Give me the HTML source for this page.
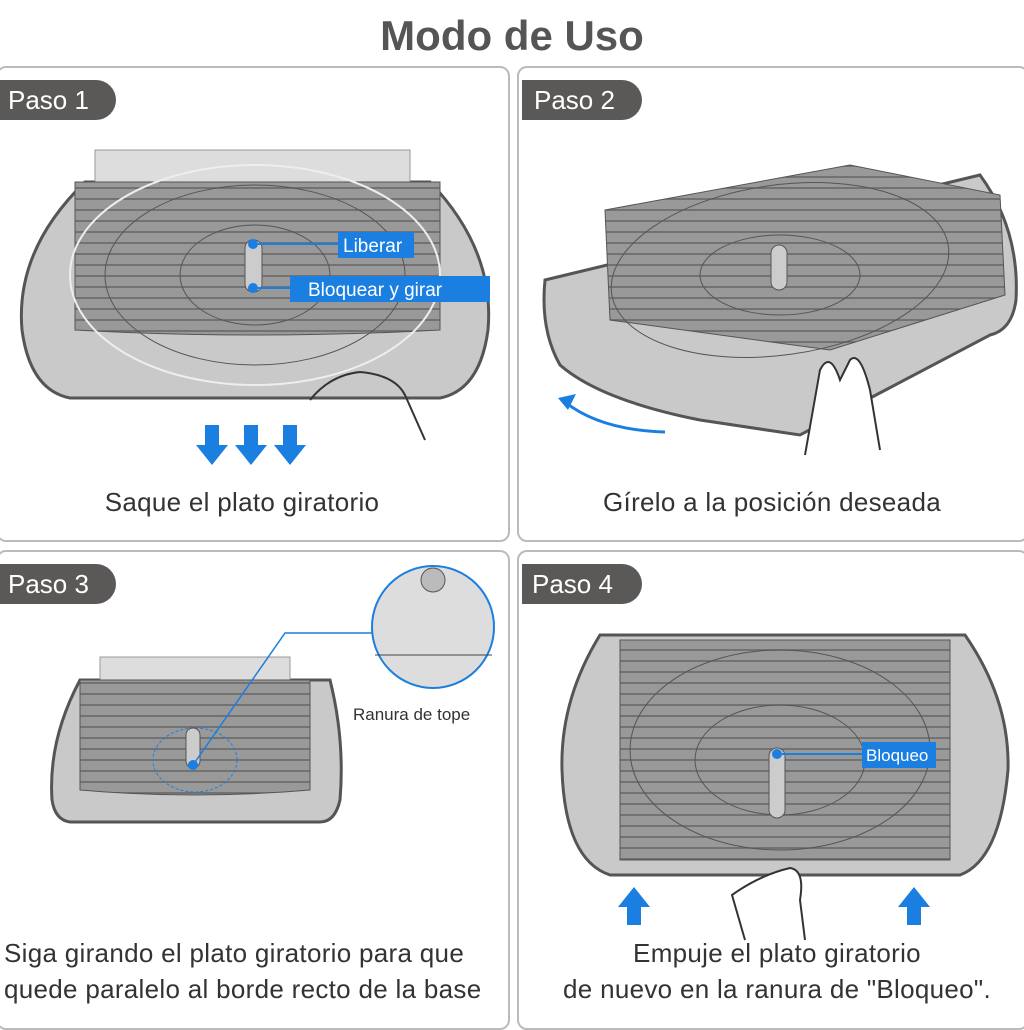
<!DOCTYPE html>
<html><head><meta charset="utf-8"><style>
body{margin:0;background:#fff;width:1024px;height:1024px;overflow:hidden;font-family:"Liberation Sans",sans-serif;position:relative}
.t{position:absolute;left:0;width:1024px;top:12px;text-align:center;font-size:42px;font-weight:bold;color:#555}
.p{position:absolute;border:2px solid #bbb;border-radius:10px;box-sizing:border-box}
.pill{position:absolute;background:#5b5957;color:#fff;font-size:26px;height:40px;line-height:40px;padding-left:8px;border-radius:0 20px 20px 0;width:116px;box-sizing:border-box}
.c{position:absolute;font-size:26px;color:#333;white-space:nowrap;letter-spacing:0.3px}
svg{position:absolute;left:0;top:0}
</style></head><body>
<div class="t">Modo de Uso</div>
<div class="p" style="left:-4px;top:66px;width:514px;height:476px"></div>
<div class="p" style="left:517px;top:66px;width:512px;height:476px"></div>
<div class="p" style="left:-4px;top:550px;width:514px;height:480px"></div>
<div class="p" style="left:517px;top:550px;width:512px;height:480px"></div>
<div class="pill" style="left:0;top:80px">Paso 1</div>
<div class="pill" style="left:522px;top:80px;width:120px;padding-left:12px">Paso 2</div>
<div class="pill" style="left:0;top:564px">Paso 3</div>
<div class="pill" style="left:522px;top:564px;width:120px;padding-left:10px">Paso 4</div>
<svg width="1024" height="1024">
<defs>
<pattern id="g" width="30" height="11" patternUnits="userSpaceOnUse"><rect width="30" height="11" fill="#999"/><line x1="0" y1="1" x2="30" y2="1" stroke="#666" stroke-width="1.5"/></pattern>
</defs>
<path d="M85,182 L430,182 Q495,250 488,330 Q480,390 440,398 L70,398 Q30,390 22,330 Q15,250 85,182Z" fill="#c9c9c9" stroke="#555" stroke-width="3"/>
<rect x="95" y="150" width="315" height="32" fill="#ddd" stroke="#999"/>
<path d="M75,182 L440,182 L440,330 Q256,340 75,330Z" fill="url(#g)" stroke="#555"/>
<ellipse cx="255" cy="275" rx="185" ry="110" fill="none" stroke="#eee" stroke-width="2"/>
<ellipse cx="255" cy="275" rx="150" ry="90" fill="none" stroke="#555"/>
<ellipse cx="255" cy="275" rx="75" ry="50" fill="none" stroke="#555"/>
<rect x="245" y="240" width="17" height="52" rx="8" fill="#ccc" stroke="#555"/>
<circle cx="253" cy="244" r="5" fill="#1a7fe0"/><circle cx="253" cy="288" r="5" fill="#1a7fe0"/>
<line x1="258" y1="244" x2="338" y2="244" stroke="#1a7fe0" stroke-width="2"/>
<line x1="258" y1="288" x2="290" y2="288" stroke="#1a7fe0" stroke-width="2"/>
<rect x="338" y="232" width="76" height="26" fill="#1a7fe0"/><text x="343" y="252" fill="#fff" font-size="19">Liberar</text>
<rect x="290" y="276" width="200" height="26" fill="#1a7fe0"/><text x="308" y="296" fill="#fff" font-size="19">Bloquear y girar</text>
<path d="M310,400 Q330,375 360,372 Q395,375 405,395 L425,440" fill="none" stroke="#333" stroke-width="2"/>
<g fill="#1a7fe0"><path d="M205,425h14v20h9l-16,20l-16,-20h9z"/><path d="M244,425h14v20h9l-16,20l-16,-20h9z"/><path d="M283,425h14v20h9l-16,20l-16,-20h9z"/></g>
<path d="M545,280 L980,175 Q1020,230 1016,300 Q1012,330 990,335 L800,435 L700,420 Q600,400 560,365 Q540,330 545,280Z" fill="#c9c9c9" stroke="#555" stroke-width="3"/>
<path d="M605,210 L850,165 L1000,195 L1005,295 L830,350 L610,320Z" fill="url(#g)" stroke="#555"/>
<ellipse cx="780" cy="270" rx="170" ry="85" fill="none" stroke="#555" transform="rotate(-8 780 270)"/>
<ellipse cx="780" cy="275" rx="80" ry="40" fill="none" stroke="#555"/>
<rect x="771" y="245" width="16" height="45" rx="8" fill="#ccc" stroke="#555"/>
<path d="M665,432 Q600,430 565,402" fill="none" stroke="#1a7fe0" stroke-width="3"/><path d="M558,398l18,-4l-8,16z" fill="#1a7fe0"/>
<path d="M805,455 L820,370 Q830,350 840,380 L850,360 Q860,350 870,390 L880,450" fill="#fff" stroke="#333" stroke-width="2"/>
<path d="M80,680 L330,680 Q345,740 340,800 Q335,822 320,822 L70,822 Q55,820 52,800 Q48,740 80,680Z" fill="#c9c9c9" stroke="#555" stroke-width="3"/>
<rect x="100" y="657" width="190" height="25" fill="#ddd" stroke="#999"/>
<path d="M80,680 L310,680 L310,790 Q195,800 80,790Z" fill="url(#g)" stroke="#555"/>
<ellipse cx="195" cy="760" rx="42" ry="32" fill="none" stroke="#1a7fe0" stroke-dasharray="3 2"/>
<rect x="186" y="728" width="14" height="40" rx="7" fill="#ccc" stroke="#555"/>
<circle cx="193" cy="765" r="5" fill="#1a7fe0"/>
<polyline points="193,765 285,633 375,633" fill="none" stroke="#1a7fe0" stroke-width="1.5"/>
<circle cx="433" cy="627" r="61" fill="#ddd" stroke="#1a7fe0" stroke-width="2"/>
<line x1="375" y1="655" x2="492" y2="655" stroke="#444"/>
<circle cx="433" cy="580" r="12" fill="#bbb" stroke="#555"/>
<text x="353" y="720" font-size="17" fill="#333">Ranura de tope</text>
<path d="M600,635 L965,635 Q1010,700 1008,770 Q1000,860 960,875 L610,875 Q565,860 562,770 Q560,700 600,635Z" fill="#c9c9c9" stroke="#555" stroke-width="3"/>
<path d="M620,640 L950,640 L950,860 L620,860Z" fill="url(#g)" stroke="#555"/>
<ellipse cx="780" cy="750" rx="150" ry="100" fill="none" stroke="#555"/>
<ellipse cx="780" cy="760" rx="85" ry="55" fill="none" stroke="#555"/>
<rect x="769" y="748" width="16" height="70" rx="8" fill="#ccc" stroke="#555"/>
<circle cx="777" cy="754" r="5" fill="#1a7fe0"/><line x1="782" y1="754" x2="862" y2="754" stroke="#1a7fe0" stroke-width="2"/>
<rect x="862" y="742" width="74" height="26" fill="#1a7fe0"/><text x="866" y="761" fill="#fff" font-size="17">Bloqueo</text>
<path d="M745,940 L732,895 Q760,875 790,868 Q805,870 800,900 L805,940" fill="#fff" stroke="#333" stroke-width="2"/>
<g fill="#1a7fe0"><path d="M627,925h14v-18h9l-16,-20l-16,20h9z"/><path d="M907,925h14v-18h9l-16,-20l-16,20h9z"/></g>
</svg>
<div class="c" style="left:0;width:484px;text-align:center;top:487px">Saque el plato giratorio</div>
<div class="c" style="left:522px;width:500px;text-align:center;top:487px">Gírelo a la posición deseada</div>
<div class="c" style="left:4px;top:938px">Siga girando el plato giratorio para que</div>
<div class="c" style="left:4px;top:974px">quede paralelo al borde recto de la base</div>
<div class="c" style="left:522px;width:510px;text-align:center;top:938px">Empuje el plato giratorio</div>
<div class="c" style="left:522px;width:510px;text-align:center;top:974px">de nuevo en la ranura de "Bloqueo".</div>
</body></html>
